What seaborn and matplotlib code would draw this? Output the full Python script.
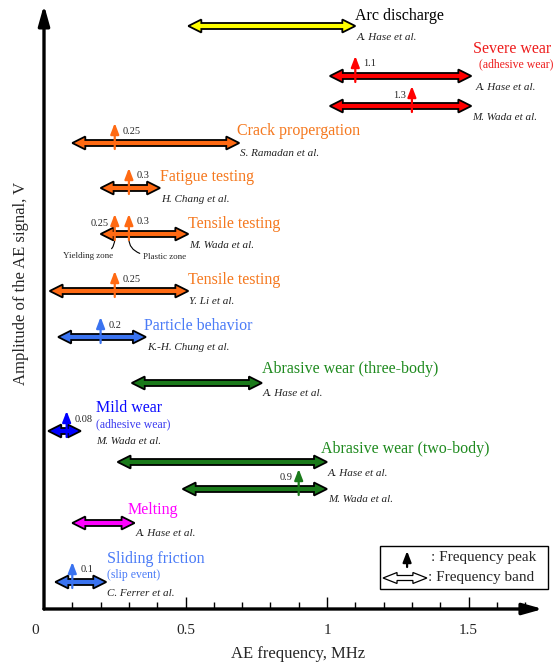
import matplotlib
matplotlib.use("Agg")
import matplotlib.pyplot as plt
import seaborn as sns
from matplotlib.patches import Polygon, Rectangle

sns.set_theme(style="white")
plt.rcParams["font.family"] = ["Liberation Serif", "DejaVu Serif"]

# ---- frequency bands (MHz) and the amplitude level each sits on ----
band_lo = [0.51, 1.01, 1.01, 0.10, 0.20, 0.20, 0.02, 0.05, 0.31, 0.015, 0.26, 0.49, 0.10, 0.04]
band_hi = [1.10, 1.51, 1.51, 0.69, 0.41, 0.51, 0.51, 0.36, 0.77, 0.13, 1.00, 1.00, 0.32, 0.22]
band_level = [583, 533, 503, 466, 421, 375, 318, 272, 226, 178, 147, 120, 86, 27]
band_color = ["#ffff00", "#ff0000", "#ff0000", "#ff6a13", "#ff6a13", "#ff6a13",
              "#ff6a13", "#3a73f0", "#1a7a1a", "#0000ff", "#1a7a1a", "#1a7a1a",
              "#ff00ff", "#3a73f0"]
authors = ["A. Hase et al.", "A. Hase et al.", "M. Wada et al.", "S. Ramadan et al.",
           "H. Chang et al.", "M. Wada et al.", "Y. Li et al.", "K.-H. Chung et al.",
           "A. Hase et al.", "M. Wada et al.", "A. Hase et al.", "M. Wada et al.",
           "A. Hase et al.", "C. Ferrer et al."]

# ---- frequency peaks (MHz), with the band they belong to ----
peak_band = [1, 2, 3, 4, 5, 5, 6, 7, 9, 11, 13]
peak_freq = [1.1, 1.3, 0.25, 0.3, 0.25, 0.3, 0.25, 0.2, 0.08, 0.9, 0.1]
peak_text = ["1.1", "1.3", "0.25", "0.3", "0.25", "0.3", "0.25", "0.2", "0.08", "0.9", "0.1"]
peak_label_left = [False, True, False, False, True, False, False, False, False, True, False]

# ---- phenomenon names ----
titles = ["Arc discharge", "Severe wear", "Crack propergation", "Fatigue testing",
          "Tensile testing", "Tensile testing", "Particle behavior",
          "Abrasive wear (three-body)", "Mild wear", "Abrasive wear (two-body)",
          "Melting", "Sliding friction"]
title_color = ["black", "#ee1c1c", "#f5781e", "#f5781e", "#f5781e", "#f5781e",
               "#4a7bf7", "#1e8a1e", "#0a0aff", "#1e8a1e", "#ff00ff", "#4a7bf7"]
subtitles = {1: "(adhesive wear)", 8: "(adhesive wear)", 11: "(slip event)"}
sub_color = {1: "#ee1c1c", 8: "#3a3af0", 11: "#4a7bf7"}

# placement of the names (left edge, centre line)
title_xy = [(1.099, 593), (1.516, 560), (0.682, 478), (0.410, 432), (0.509, 385),
            (0.509, 329), (0.353, 283), (0.770, 240), (0.184, 201), (0.979, 160),
            (0.297, 99), (0.223, 50)]
sub_xy = {1: (1.537, 545), 8: (0.184, 185), 11: (0.223, 34)}
author_dx = {1: 0.015, 9: 0.054}

PX = 283.0          # pixels per MHz on the frequency axis
X_MAX = 508 / PX
Y_MAX = 605

fig = plt.figure(figsize=(5.59, 6.64), dpi=100)
ax = fig.add_axes([44 / 559, 55 / 664, 508 / 559, 605 / 664])
ax.set_xlim(0, X_MAX)
ax.set_ylim(0, Y_MAX)
sns.despine(ax=ax, left=True, bottom=True)
ax.set_facecolor("white")


def band_arrow(lo, hi, y, face, hl=13, hw=6.5, bh=3.0, lw=1.3):
    h = hl / PX
    pts = [(lo, y), (lo + h, y + hw), (lo + h, y + bh), (hi - h, y + bh),
           (hi - h, y + hw), (hi, y), (hi - h, y - hw), (hi - h, y - bh),
           (lo + h, y - bh), (lo + h, y - hw)]
    ax.add_patch(Polygon(pts, closed=True, facecolor=face, edgecolor="black",
                         linewidth=lw, joinstyle="miter", zorder=3, clip_on=False))


def peak_arrow(x, y0, y1, color):
    ax.annotate("", xy=(x, y1), xytext=(x, y0),
                arrowprops=dict(arrowstyle="-|>,head_length=0.65,head_width=0.25",
                                mutation_scale=10, color=color, lw=1.6,
                                shrinkA=0, shrinkB=0),
                zorder=4, annotation_clip=False)


# bands and author names
for i, (lo, hi, lev, col, au) in enumerate(zip(band_lo, band_hi, band_level,
                                                band_color, authors)):
    band_arrow(lo, hi, lev, col)
    ax.text(hi + author_dx.get(i, 0.003), lev - 11, au, fontsize=8, style="italic",
            ha="left", va="center", color="#222222")

# peaks
for b, f, t, left in zip(peak_band, peak_freq, peak_text, peak_label_left):
    lev = band_level[b]
    peak_arrow(f, lev - 6, lev + 20, band_color[b])
    if left:
        ax.text(f - 0.022, lev + 11, t, fontsize=7.5, ha="right", va="center")
    else:
        ax.text(f + 0.028, lev + 12, t, fontsize=7.5, ha="left", va="center")

# phenomenon names
for i, (name, (tx, ty), c) in enumerate(zip(titles, title_xy, title_color)):
    ax.text(tx, ty, name, fontsize=11.5, color=c, ha="left", va="center")
    if i in subtitles:
        sx, sy = sub_xy[i]
        ax.text(sx, sy, subtitles[i], fontsize=8.5, color=sub_color[i],
                ha="left", va="center")

# yielding / plastic zone callouts
ax.annotate("Yielding zone", xy=(0.25, band_level[5] - 5), xytext=(0.245, 353),
            fontsize=6.5, ha="right", va="center",
            arrowprops=dict(arrowstyle="-", lw=0.8, color="black",
                            connectionstyle="angle3,angleA=0,angleB=-90",
                            shrinkA=0, shrinkB=0))
ax.annotate("Plastic zone", xy=(0.30, band_level[5] - 5), xytext=(0.35, 352),
            fontsize=6.5, ha="left", va="center",
            arrowprops=dict(arrowstyle="-", lw=0.8, color="black",
                            connectionstyle="angle3,angleA=0,angleB=-90",
                            shrinkA=0, shrinkB=0))

# axes drawn as arrows
ax.annotate("", xy=(1.763, 0), xytext=(0, 0),
            arrowprops=dict(arrowstyle="-|>,head_length=1.0,head_width=0.28",
                            color="black", lw=2.4, shrinkA=0, shrinkB=0),
            annotation_clip=False, zorder=5)
ax.annotate("", xy=(0, 604), xytext=(0, 0),
            arrowprops=dict(arrowstyle="-|>,head_length=1.0,head_width=0.28",
                            color="black", lw=2.4, shrinkA=0, shrinkB=0),
            annotation_clip=False, zorder=5)

# ticks on the frequency axis
ax.set_xticks([0.5, 1.0, 1.5])
ax.set_xticklabels(["0.5", "1", "1.5"])
ax.set_xticks([0.1 * k for k in range(1, 18) if k % 5], minor=True)
ax.tick_params(axis="x", which="major", direction="in", length=9, width=1,
               color="black", labelsize=11, pad=11, bottom=True)
ax.tick_params(axis="x", which="minor", direction="in", length=5, width=1,
               color="black", bottom=True)
ax.set_yticks([])
ax.text(-0.03, -22, "0", fontsize=11, ha="center", va="center",
        transform=ax.transData)

ax.set_xlabel("AE frequency, MHz", fontsize=12, labelpad=6)
fig.text(21 / 559, 1 - 283 / 664, "Amplitude of the AE signal, V", fontsize=12,
         rotation=90, ha="center", va="center")

# key
ax.add_patch(Rectangle((1.187, 20), 0.594, 43, facecolor="white", edgecolor="black",
                       linewidth=1.0, zorder=2, clip_on=False))
peak_arrow(1.283, 42, 58, "black")
band_arrow(1.198, 1.353, 31, "white", hl=14, hw=5.5, bh=2.5, lw=0.9)
ax.text(1.367, 52, ": Frequency peak", fontsize=11, ha="left", va="center")
ax.text(1.357, 31, ": Frequency band", fontsize=11, ha="left", va="center")

fig.savefig("out.png", dpi=100, facecolor="white")
